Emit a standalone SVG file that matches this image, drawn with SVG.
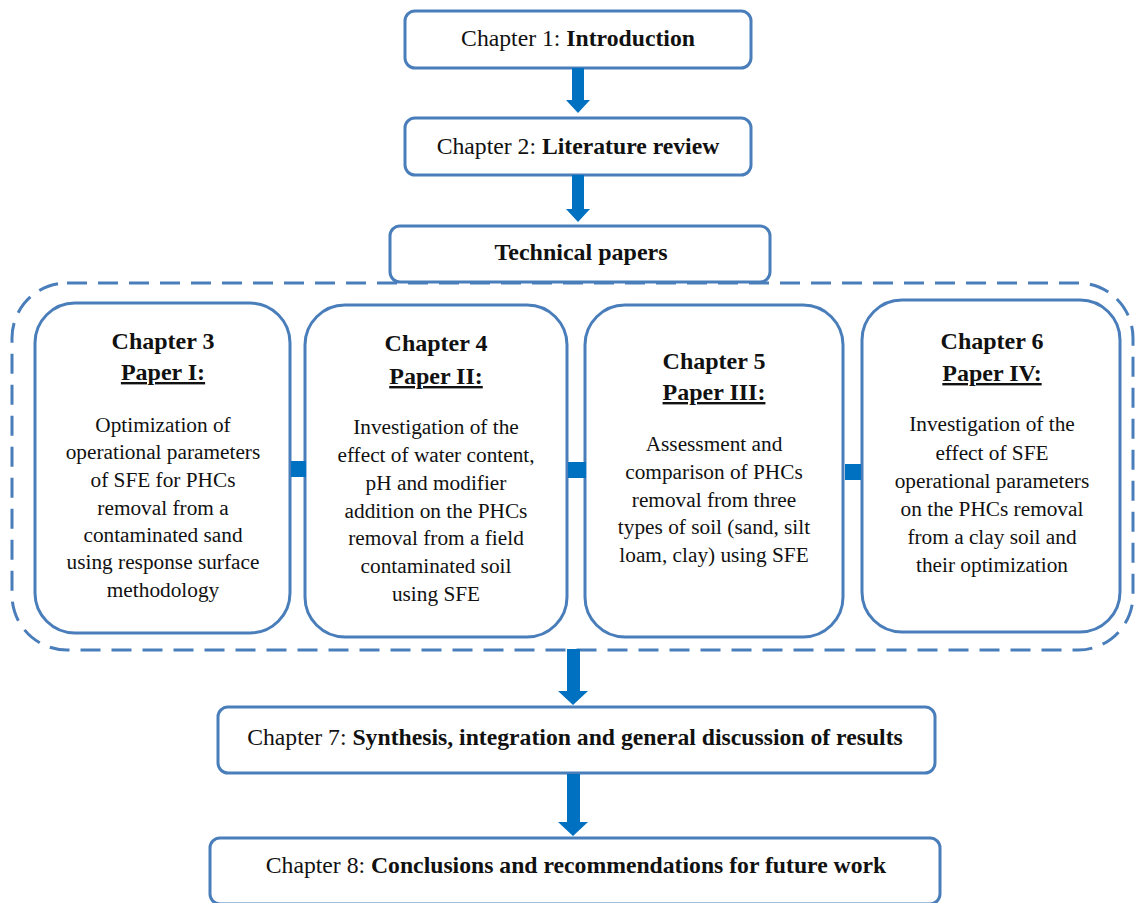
<svg xmlns="http://www.w3.org/2000/svg" width="1135" height="903" viewBox="0 0 1135 903">
<style>
.box{fill:#fff;stroke:#4a7ebb;stroke-width:3}
.dash{fill:none;stroke:#4a7ebb;stroke-width:3;stroke-dasharray:20 11}
.t{font-family:"Liberation Serif","Times New Roman",serif;font-size:23.7px;fill:#111;text-anchor:middle}
.b{font-weight:bold}
.h{font-family:"Liberation Serif","Times New Roman",serif;font-size:24px;font-weight:bold;fill:#111;text-anchor:middle}
.u{text-decoration:underline}
.p{font-family:"Liberation Serif","Times New Roman",serif;font-size:21.3px;fill:#111;text-anchor:middle}
.arr{fill:#0070c0}
</style>
<rect class="dash" x="12" y="283" width="1121" height="367" rx="55"/>
<g id="ch1"><rect class="box" x="405" y="11" width="346" height="57" rx="10"/><text class="t" x="578" y="46">Chapter 1: <tspan class="b">Introduction</tspan></text></g>
<g id="ch2"><rect class="box" x="405" y="118" width="346" height="57" rx="10"/><text class="t" x="578" y="154">Chapter 2: <tspan class="b">Literature review</tspan></text></g>
<g id="tech"><rect class="box" x="390" y="226" width="380" height="56" rx="10"/><text class="h" x="581" y="260">Technical papers</text></g>
<g id="ch3"><rect class="box" x="35" y="303" width="255" height="330" rx="40"/>
<text class="h" x="163" y="349">Chapter 3</text><text class="h u" x="163" y="380">Paper I:</text>
<text class="p" x="163" y="432">Optimization of</text><text class="p" x="163" y="459">operational parameters</text><text class="p" x="163" y="487">of SFE for PHCs</text><text class="p" x="163" y="515">removal from a</text><text class="p" x="163" y="542">contaminated sand</text><text class="p" x="163" y="569">using response surface</text><text class="p" x="163" y="597">methodology</text></g>
<g id="ch4"><rect class="box" x="305" y="305" width="262" height="332" rx="40"/>
<text class="h" x="436" y="351">Chapter 4</text><text class="h u" x="436" y="384">Paper II:</text>
<text class="p" x="436" y="434">Investigation of the</text><text class="p" x="436" y="462">effect of water content,</text><text class="p" x="436" y="490">pH and modifier</text><text class="p" x="436" y="518">addition on the PHCs</text><text class="p" x="436" y="545">removal from a field</text><text class="p" x="436" y="573">contaminated soil</text><text class="p" x="436" y="601">using SFE</text></g>
<g id="ch5"><rect class="box" x="585" y="305" width="258" height="332" rx="40"/>
<text class="h" x="714" y="369">Chapter 5</text><text class="h u" x="714" y="400">Paper III:</text>
<text class="p" x="714" y="451">Assessment and</text><text class="p" x="714" y="479">comparison of PHCs</text><text class="p" x="714" y="507">removal from three</text><text class="p" x="714" y="534">types of soil (sand, silt</text><text class="p" x="714" y="562">loam, clay) using SFE</text></g>
<g id="ch6"><rect class="box" x="862" y="300" width="258" height="332" rx="40"/>
<text class="h" x="992" y="349">Chapter 6</text><text class="h u" x="992" y="381">Paper IV:</text>
<text class="p" x="992" y="431">Investigation of the</text><text class="p" x="992" y="460">effect of SFE</text><text class="p" x="992" y="488">operational parameters</text><text class="p" x="992" y="516">on the PHCs removal</text><text class="p" x="992" y="544">from a clay soil and</text><text class="p" x="992" y="572">their optimization</text></g>
<g id="ch7"><rect class="box" x="218" y="707" width="717" height="66" rx="10"/><text class="t" x="575" y="745">Chapter 7: <tspan class="b">Synthesis, integration and general discussion of results</tspan></text></g>
<g id="ch8"><rect class="box" x="210" y="838" width="730" height="66" rx="10"/><text class="t" x="576" y="873">Chapter 8: <tspan class="b">Conclusions and recommendations for future work</tspan></text></g>
<g id="connectors">
<polygon class="arr" points="572,68 584,68 584,100 590,100 578,113 566,100 572,100"/>
<polygon class="arr" points="572,175 584,175 584,209 590,209 578,222 566,209 572,209"/>
<polygon class="arr" points="567,649 580,649 580,691 588,691 573,705 558,691 567,691"/>
<polygon class="arr" points="567,774 580,774 580,822 588,822 573,836 558,822 567,822"/>
<rect class="arr" x="291" y="461" width="15" height="16"/>
<rect class="arr" x="568" y="462" width="18" height="16"/>
<rect class="arr" x="845" y="464" width="16" height="16"/>
</g>
</svg>
